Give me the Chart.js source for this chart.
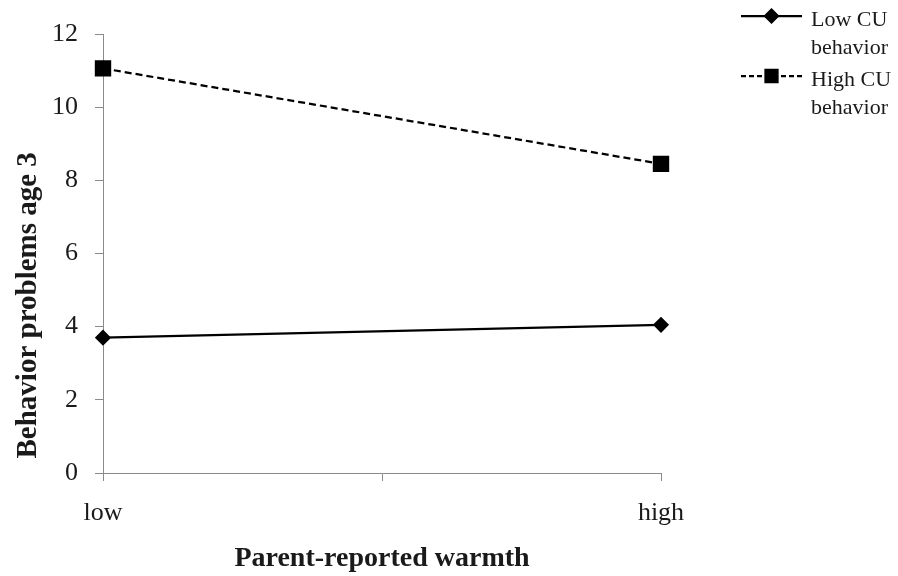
<!DOCTYPE html>
<html>
<head>
<meta charset="utf-8">
<script src="https://cdn.jsdelivr.net/npm/chart.js@4"></script>
<style>
  html, body { margin: 0; padding: 0; background: #ffffff; }
  #wrap { width: 898px; height: 576px; }
</style>
</head>
<body>
<div id="wrap"><canvas id="c" width="898" height="576"></canvas></div>
<script>
// ---- data ----
const categories = ['low', 'high'];
const seriesNames = ['Low CU behavior', 'High CU behavior'];
const lowCU = [3.70, 4.05];
const highCU = [11.06, 8.45];
const yTicks = [0, 2, 4, 6, 8, 10, 12];

const SERIF = '"Liberation Serif", "Times New Roman", serif';

function toPoints(vals) {
  return vals.map((v, i) => ({ x: i, y: v }));
}

function wrapLabel(s) {
  const k = s.lastIndexOf(' ');
  return k > 0 ? [s.slice(0, k), s.slice(k + 1)] : [s];
}

const sideLegend = {
  id: 'sideLegend',
  afterDraw(chart, args, opts) {
    const ctx = chart.ctx;
    chart.data.datasets.forEach((ds, i) => {
      const y = opts.top + i * opts.itemGap;
      ctx.save();
      ctx.strokeStyle = ds.borderColor;
      ctx.lineWidth = ds.borderWidth;
      ctx.setLineDash(ds.legendDash || []);
      ctx.beginPath();
      ctx.moveTo(opts.x0, y);
      ctx.lineTo(opts.x1, y);
      ctx.stroke();
      ctx.setLineDash([]);
      ctx.fillStyle = ds.pointBackgroundColor;
      ctx.strokeStyle = ds.pointBorderColor;
      Chart.helpers.drawPoint(ctx, {
        pointStyle: ds.pointStyle,
        radius: ds.legendPointRadius,
        borderWidth: 1,
        rotation: 0
      }, (opts.x0 + opts.x1) / 2, y);
      ctx.fillStyle = '#1a1a1a';
      ctx.font = opts.fontSize + 'px ' + SERIF;
      ctx.textAlign = 'left';
      ctx.textBaseline = 'alphabetic';
      wrapLabel(ds.label).forEach((line, j) => {
        ctx.fillText(line, opts.textX, y + opts.firstBaseline + j * opts.lineGap);
      });
      ctx.restore();
    });
  }
};

new Chart(document.getElementById('c'), {
  type: 'line',
  data: {
    datasets: [
      {
        label: seriesNames[0],
        data: toPoints(lowCU),
        borderColor: '#000000',
        borderWidth: 2.25,
        pointStyle: 'rectRot',
        pointRadius: 6.5,
        pointBackgroundColor: '#000000',
        pointBorderColor: '#000000',
        legendPointRadius: 6.5,
        legendDash: [],
        clip: false,
        tension: 0
      },
      {
        label: seriesNames[1],
        data: toPoints(highCU),
        borderColor: '#000000',
        borderWidth: 2.25,
        borderDash: [7, 4],
        pointStyle: 'rect',
        pointRadius: 10,
        pointBackgroundColor: '#000000',
        pointBorderColor: '#000000',
        legendPointRadius: 8.5,
        legendDash: [5, 3],
        clip: false,
        tension: 0
      }
    ]
  },
  options: {
    responsive: false,
    animation: false,
    devicePixelRatio: 1,
    layout: { padding: { top: 34, right: 237, left: 0, bottom: 0 } },
    plugins: {
      legend: { display: false },
      tooltip: { enabled: false },
      sideLegend: {
        x0: 741, x1: 802, top: 16, itemGap: 60,
        textX: 811, firstBaseline: 10, lineGap: 28, fontSize: 22
      }
    },
    scales: {
      x: {
        type: 'linear',
        min: 0,
        max: categories.length - 1,
        afterBuildTicks(scale) {
          const n = categories.length - 1;
          const t = [];
          for (let i = 0; i <= 2 * n; i++) t.push({ value: i / 2 });
          scale.ticks = t;
        },
        afterFit(scale) { scale.height = 103; },
        grid: {
          drawOnChartArea: false,
          drawTicks: true,
          tickLength: 8,
          color: '#8a8a8a',
          lineWidth: 1
        },
        border: { display: true, color: '#8a8a8a', width: 1 },
        ticks: {
          color: '#1a1a1a',
          padding: 17,
          maxRotation: 0,
          autoSkip: false,
          font: { family: SERIF, size: 26 },
          callback(v) {
            return Number.isInteger(v) ? categories[v] : '';
          }
        },
        title: {
          display: true,
          text: 'Parent-reported warmth',
          color: '#1a1a1a',
          padding: { top: 0, bottom: 0 },
          font: { family: SERIF, size: 28, weight: 'bold' }
        }
      },
      y: {
        min: yTicks[0],
        max: yTicks[yTicks.length - 1],
        afterBuildTicks(scale) {
          scale.ticks = yTicks.map(v => ({ value: v }));
        },
        afterFit(scale) { scale.width = 103; },
        grid: {
          drawOnChartArea: false,
          drawTicks: true,
          tickLength: 8,
          color: '#8a8a8a',
          lineWidth: 1
        },
        border: { display: true, color: '#8a8a8a', width: 1 },
        ticks: {
          color: '#1a1a1a',
          padding: 17,
          font: { family: SERIF, size: 26 }
        },
        title: {
          display: true,
          align: 'start',
          text: '  Behavior problems age 3',
          color: '#1a1a1a',
          padding: { top: 11, bottom: 0 },
          font: { family: SERIF, size: 29, weight: 'bold' }
        }
      }
    }
  },
  plugins: [sideLegend]
});
</script>
</body>
</html>
